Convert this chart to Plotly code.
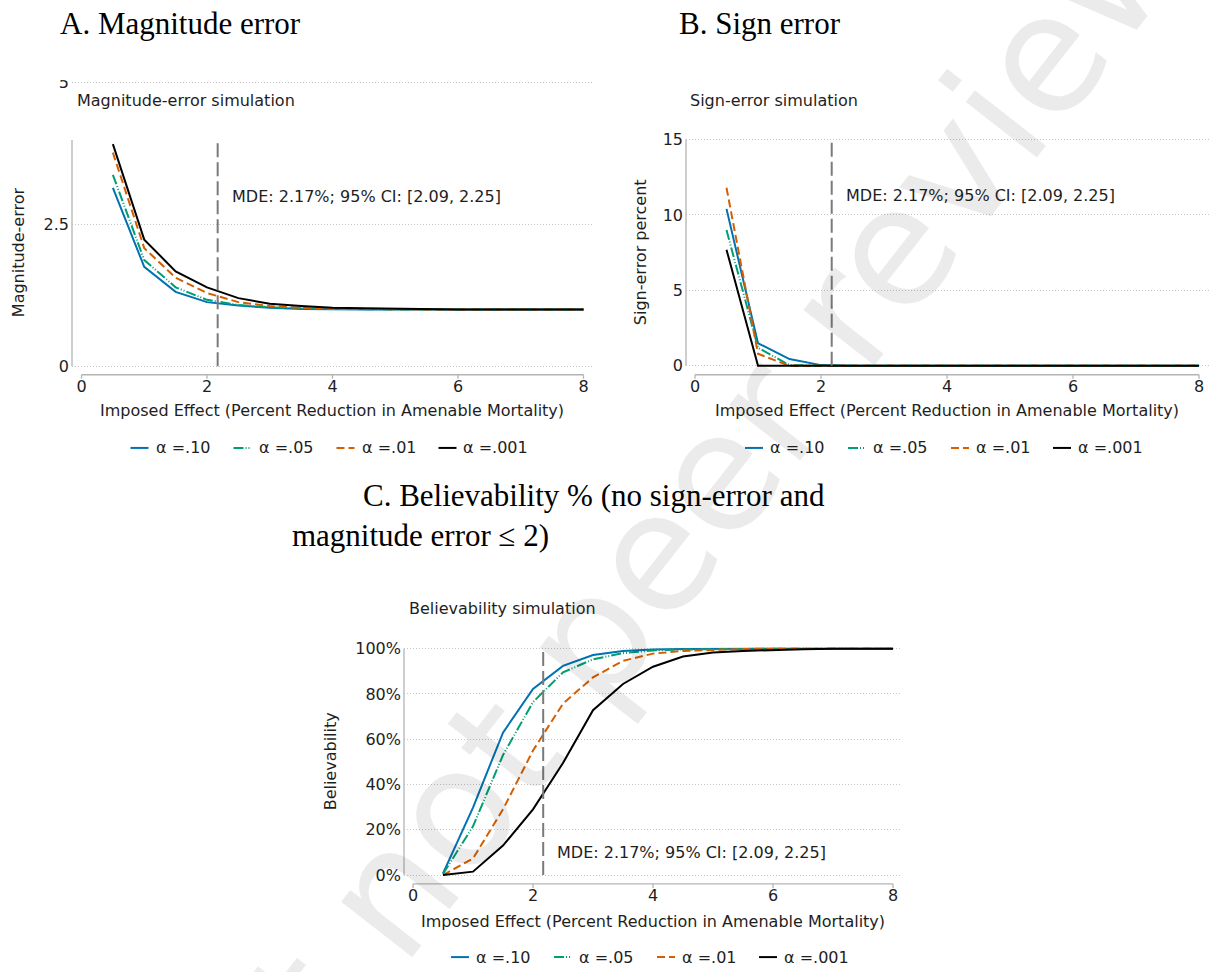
import plotly.graph_objects as go

W, H = 1210, 972


def px(x):
    return x / W


def py(y):
    return 1 - y / H


# ---------------- data ----------------
effect = [0.5, 1.0, 1.5, 2.0, 2.5, 3.0, 3.5, 4.0, 4.5, 5.0, 5.5, 6.0, 6.5, 7.0, 7.5, 8.0]
alpha_labels = ["α =.10", "α =.05", "α =.01", "α =.001"]

# magnitude error (exaggeration ratio)
mag_a10 = [3.14, 1.75, 1.31, 1.13, 1.07, 1.03, 1.01, 1.00, 1.00, 1.00, 1.00, 1.00, 1.00, 1.00, 1.00, 1.00]
mag_a05 = [3.37, 1.87, 1.39, 1.17, 1.08, 1.04, 1.02, 1.01, 1.00, 1.00, 1.00, 1.00, 1.00, 1.00, 1.00, 1.00]
mag_a01 = [3.76, 2.08, 1.56, 1.29, 1.13, 1.06, 1.03, 1.01, 1.01, 1.00, 1.00, 1.00, 1.00, 1.00, 1.00, 1.00]
mag_a001 = [3.91, 2.23, 1.67, 1.39, 1.20, 1.10, 1.06, 1.03, 1.02, 1.01, 1.01, 1.00, 1.00, 1.00, 1.00, 1.00]

# sign error (percent)
sign_a10 = [10.4, 1.5, 0.45, 0.05, 0.0, 0.0, 0.0, 0.0, 0.0, 0.0, 0.0, 0.0, 0.0, 0.0, 0.0, 0.0]
sign_a05 = [9.0, 1.2, 0.05, 0.0, 0.0, 0.0, 0.0, 0.0, 0.0, 0.0, 0.0, 0.0, 0.0, 0.0, 0.0, 0.0]
sign_a01 = [11.8, 0.8, 0.0, 0.0, 0.0, 0.0, 0.0, 0.0, 0.0, 0.0, 0.0, 0.0, 0.0, 0.0, 0.0, 0.0]
sign_a001 = [7.7, 0.0, 0.0, 0.0, 0.0, 0.0, 0.0, 0.0, 0.0, 0.0, 0.0, 0.0, 0.0, 0.0, 0.0, 0.0]

# believability (percent)
bel_a10 = [0.7, 29.8, 62.9, 82.2, 92.4, 97.2, 99.0, 99.6, 99.8, 99.9, 100, 100, 100, 100, 100, 100]
bel_a05 = [0.5, 21.5, 53.0, 76.4, 89.5, 95.3, 98.0, 99.2, 99.6, 99.8, 99.9, 100, 100, 100, 100, 100]
bel_a01 = [0.0, 7.3, 29.0, 55.0, 75.7, 87.3, 94.6, 97.8, 99.0, 99.5, 99.8, 99.9, 100, 100, 100, 100]
bel_a001 = [0.0, 1.5, 13.0, 29.0, 49.5, 72.8, 84.4, 92.0, 96.5, 98.3, 99.0, 99.5, 99.7, 99.9, 100, 100]

mde = 2.17
ci_low, ci_high = 2.09, 2.25

x_ticks = [0, 2, 4, 6, 8]
mag_ticks = [0, 2.5, 5]
mag_tick_text = ["0", "2.5", "5"]
sign_ticks = [0, 5, 10, 15]
bel_ticks = [0, 20, 40, 60, 80, 100]
bel_tick_text = ["0%", "20%", "40%", "60%", "80%", "100%"]

# ---------------- styles ----------------
colors = ["#0072B2", "#009E73", "#D55E00", "#000000"]
dashes = ["solid", "10px,2px,1px,2px,1px,2px", "8px,4px", "solid"]
SANS = "DejaVu Sans"
SERIF = "Liberation Serif"
TXT = "#1e1e1e"
AXIS_COL = "#b4b4b4"
GRID_COL = "#c4c4c4"
MDE_COL = "#7a7a7a"
PAD = 4  # extra room so the outer grid lines are not dropped at the plot edge

panels = [
    dict(
        key="", series=[mag_a10, mag_a05, mag_a01, mag_a001],
        x0=81.5, x8=583.5, dom=(72, 592), ybot=365.5, ytop=78, yrange=(0, 5),
        ticks=mag_ticks, ticktext=mag_tick_text, spine_top=3.98, xline=374,
        ytitle="Magnitude-error", ytitle_x=18, ytitle_y=250,
        sub="Magnitude-error simulation", sub_x=75, sub_y=97,
        xtitle_y=410, legend_y=448, mde_y=2.98,
    ),
    dict(
        key="2", series=[sign_a10, sign_a05, sign_a01, sign_a001],
        x0=695, x8=1199, dom=(686, 1210), ybot=365, ytop=136, yrange=(0, 15),
        ticks=sign_ticks, ticktext=[str(t) for t in sign_ticks], spine_top=15, xline=374,
        ytitle="Sign-error percent", ytitle_x=640, ytitle_y=250,
        sub="Sign-error simulation", sub_x=688, sub_y=97,
        xtitle_y=410, legend_y=448, mde_y=11.26,
    ),
    dict(
        key="3", series=[bel_a10, bel_a05, bel_a01, bel_a001],
        x0=413, x8=893, dom=(404, 900), ybot=880, ytop=651, yrange=(0, 100),
        ticks=bel_ticks, ticktext=bel_tick_text, spine_top=100, xline=889,
        ytitle="Believability", ytitle_x=330, ytitle_y=765,
        sub="Believability simulation", sub_x=407, sub_y=610,
        xtitle_y=927, legend_y=963, mde_y=10.0,
    ),
]

fig = go.Figure()
shapes = []
annotations = []

# faint diagonal watermark
annotations.append(dict(
    text="Preprint not peer reviewed", xref="paper", yref="paper",
    x=px(604), y=py(621), xanchor="center", yanchor="middle",
    textangle=-52, showarrow=False,
    font=dict(family=SANS, size=165, color="rgba(0,0,0,0.08)"),
))

xtitle = "Imposed Effect (Percent Reduction in Amenable Mortality)"
mde_text = f"MDE: {mde:.2f}%; 95% CI: [{ci_low:.2f}, {ci_high:.2f}]"

for p in panels:
    xa = "x" + p["key"]
    ya = "y" + p["key"]
    xs = (p["x8"] - p["x0"]) / 8.0
    xr = [(p["dom"][0] - p["x0"]) / xs, 8 + (p["dom"][1] - p["x8"]) / xs]
    ylo, yhi = p["yrange"]
    ys = (p["ybot"] - p["ytop"]) / (yhi - ylo)
    yr = [ylo - PAD / ys, yhi + PAD / ys]

    for vals, lab, col, dash in zip(p["series"], alpha_labels, colors, dashes):
        fig.add_trace(go.Scatter(
            x=effect, y=vals, mode="lines", name=lab, showlegend=False,
            line=dict(color=col, width=2, dash=dash),
            xaxis=xa, yaxis=ya, hoverinfo="skip",
        ))

    fig.update_layout({
        "xaxis" + p["key"]: dict(
            domain=[px(p["dom"][0]), px(p["dom"][1])], range=xr,
            anchor="free", position=py(p["xline"]),
            tickvals=x_ticks, ticks="", showgrid=False, zeroline=False, showline=False,
            tickfont=dict(family=SANS, size=16, color=TXT),
        ),
        "yaxis" + p["key"]: dict(
            domain=[py(p["ybot"] + PAD), py(p["ytop"] - PAD)], range=yr,
            anchor="free", position=px(p["dom"][0]),
            tickvals=p["ticks"], ticktext=p["ticktext"], ticks="", ticklabelstandoff=3,
            showgrid=True, gridcolor=GRID_COL, gridwidth=1, griddash="1px,2px",
            zeroline=False, showline=False,
            tickfont=dict(family=SANS, size=16, color=TXT),
        ),
    })

    # axis lines and x tick marks
    shapes.append(dict(type="line", xref=xa, yref="paper", x0=0, x1=8,
                       y0=py(p["xline"]), y1=py(p["xline"]),
                       line=dict(color=AXIS_COL, width=1.3)))
    for t in x_ticks:
        shapes.append(dict(type="line", xref=xa, yref="paper", x0=t, x1=t,
                           y0=py(p["xline"]), y1=py(p["xline"] + 4),
                           line=dict(color=AXIS_COL, width=1.3)))
    shapes.append(dict(type="line", xref="paper", yref=ya,
                       x0=px(p["dom"][0]), x1=px(p["dom"][0]), y0=0, y1=p["spine_top"],
                       line=dict(color=AXIS_COL, width=1.3)))
    # minimum detectable effect marker
    shapes.append(dict(type="line", xref=xa, yref=ya, x0=mde, x1=mde, y0=0, y1=p["spine_top"],
                       line=dict(color=MDE_COL, width=2, dash="14px,5px")))
    annotations.append(dict(text=mde_text, xref=xa, yref=ya, x=mde + 0.2, y=p["mde_y"],
                            xanchor="left", yanchor="middle", showarrow=False,
                            font=dict(family=SANS, size=16, color=TXT)))

    # titles
    annotations.append(dict(text=p["sub"], xref="paper", yref="paper",
                            x=px(p["sub_x"]), y=py(p["sub_y"]), xanchor="left", yanchor="middle",
                            showarrow=False, font=dict(family=SANS, size=16, color=TXT)))
    annotations.append(dict(text=p["ytitle"], xref="paper", yref="paper",
                            x=px(p["ytitle_x"]), y=py(p["ytitle_y"]), xanchor="center",
                            yanchor="middle", textangle=-90, showarrow=False,
                            font=dict(family=SANS, size=16, color=TXT)))
    xc = (p["x0"] + p["x8"]) / 2
    annotations.append(dict(text=xtitle, xref="paper", yref="paper",
                            x=px(xc), y=py(p["xtitle_y"]), xanchor="center", yanchor="middle",
                            showarrow=False, font=dict(family=SANS, size=16, color=TXT)))

    # legend row
    for off, lab, col, dash in zip([-202, -99, 4, 106], alpha_labels, colors, dashes):
        sx = xc + off
        shapes.append(dict(type="line", xref="paper", yref="paper",
                           x0=px(sx), x1=px(sx + 18), y0=py(p["legend_y"]), y1=py(p["legend_y"]),
                           line=dict(color=col, width=2, dash=dash)))
        annotations.append(dict(text=lab, xref="paper", yref="paper",
                                x=px(sx + 23), y=py(p["legend_y"]), xanchor="left",
                                yanchor="middle", showarrow=False,
                                font=dict(family=SANS, size=16, color=TXT)))

# top tick label of the first panel is cut off by the panel frame
shapes.append(dict(type="rect", xref="paper", yref="paper", layer="above",
                   x0=px(40), x1=px(71), y0=py(76), y1=py(50),
                   fillcolor="white", line=dict(width=0)))

# panel headings
head_font = dict(family=SERIF, size=31, color="#000000")
annotations.append(dict(text="A. Magnitude error", xref="paper", yref="paper",
                        x=px(58), y=py(19), xanchor="left", yanchor="middle",
                        showarrow=False, font=head_font))
annotations.append(dict(text="B. Sign error", xref="paper", yref="paper",
                        x=px(677), y=py(19), xanchor="left", yanchor="middle",
                        showarrow=False, font=head_font))
annotations.append(dict(text="C. Believability % (no sign-error and", xref="paper", yref="paper",
                        x=px(361), y=py(496), xanchor="left", yanchor="middle",
                        showarrow=False, font=head_font))
annotations.append(dict(text="magnitude error ≤ 2)", xref="paper", yref="paper",
                        x=px(290), y=py(537), xanchor="left", yanchor="middle",
                        showarrow=False, font=head_font))

fig.update_layout(
    width=W, height=H, margin=dict(l=0, r=0, t=0, b=0),
    paper_bgcolor="white", plot_bgcolor="white",
    showlegend=False, shapes=shapes, annotations=annotations,
)

fig.write_html("out.html")
